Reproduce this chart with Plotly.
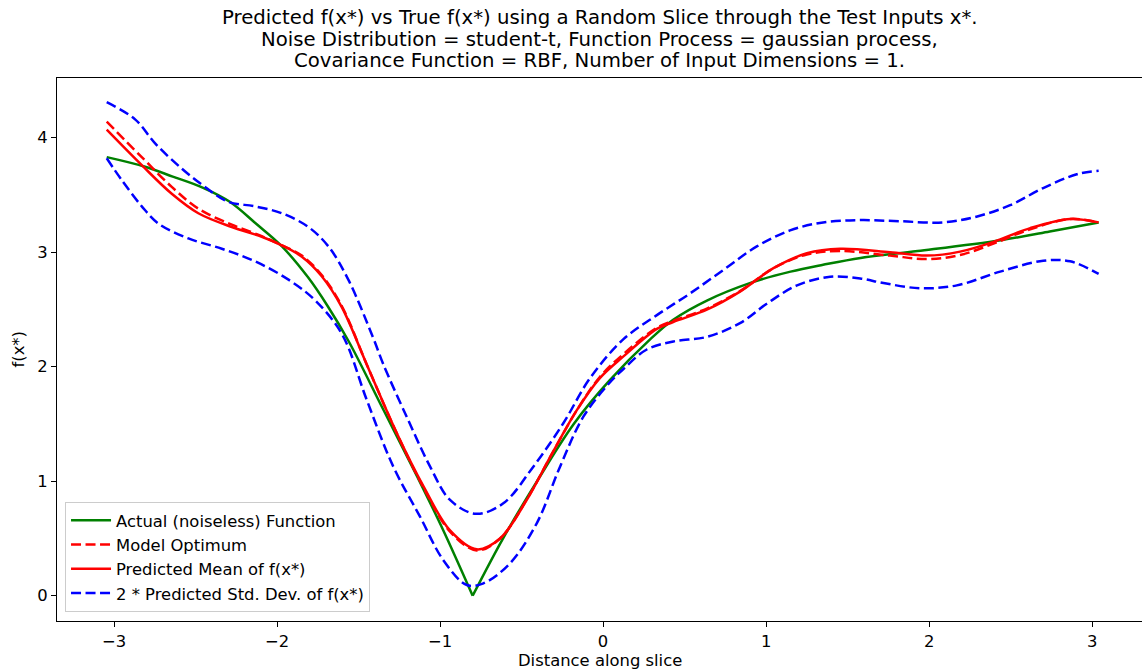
import plotly.graph_objects as go

# ---- data ----
true_left_x = [-3.045, -2.82, -2.64, -2.45, -2.29, -2.13, -1.97, -1.81, -1.69, -1.56, -1.35, -1.14, -0.98, -0.80]
true_left_y = [3.83, 3.75, 3.66, 3.56, 3.44, 3.25, 3.05, 2.78, 2.53, 2.22, 1.63, 1.04, 0.57, 0.0]
true_right_x = [-0.80, -0.61, -0.405, -0.18, 0.04, 0.29, 0.43, 0.64, 0.90, 1.15, 1.35, 1.58, 1.93, 2.44, 2.74, 3.04]
true_right_y = [0.0, 0.51, 1.00, 1.50, 1.88, 2.24, 2.41, 2.58, 2.73, 2.83, 2.89, 2.95, 3.01, 3.105, 3.18, 3.26]

pred_x = [-3.045, -2.83, -2.646, -2.483, -2.278, -2.094, -1.971, -1.848, -1.726, -1.603,
          -1.45, -1.266, -1.10, -0.939, -0.775, -0.632, -0.468, -0.325, -0.161, -0.02,
          0.125, 0.33, 0.43, 0.64, 0.84, 1.045, 1.25, 1.454, 1.76, 1.986,
          2.19, 2.395, 2.62, 2.865, 3.04]
mean_y = [4.07, 3.76, 3.51, 3.34, 3.22, 3.135, 3.06, 2.96, 2.79, 2.52,
          2.02, 1.42, 0.95, 0.57, 0.405, 0.50, 0.836, 1.21, 1.62, 1.90,
          2.09, 2.33, 2.39, 2.50, 2.655, 2.86, 2.99, 3.03, 3.00, 2.97,
          3.005, 3.09, 3.21, 3.29, 3.26]
optimum_y = [4.14, 3.83, 3.57, 3.38, 3.24, 3.14, 3.06, 2.97, 2.80, 2.53,
             2.02, 1.42, 0.94, 0.56, 0.395, 0.50, 0.84, 1.21, 1.62, 1.91,
             2.11, 2.34, 2.40, 2.51, 2.66, 2.86, 2.98, 3.01, 2.97, 2.94,
             2.975, 3.075, 3.20, 3.29, 3.26]

upper_x = [-3.045, -2.871, -2.748, -2.585, -2.442, -2.30, -2.135, -1.971, -1.808, -1.685,
           -1.563, -1.41, -1.348, -1.204, -1.061, -0.939, -0.78, -0.612, -0.428, -0.244,
           -0.08, 0.125, 0.33, 0.534, 0.738, 0.943, 1.147, 1.35, 1.577, 1.82,
           2.088, 2.29, 2.497, 2.70, 2.906, 3.04]
upper_y = [4.31, 4.16, 3.95, 3.73, 3.57, 3.44, 3.40, 3.34, 3.22, 3.05,
           2.76, 2.25, 2.02, 1.56, 1.127, 0.836, 0.715, 0.807, 1.127, 1.506,
           1.90, 2.24, 2.45, 2.64, 2.845, 3.05, 3.19, 3.26, 3.28, 3.27,
           3.26, 3.31, 3.41, 3.56, 3.68, 3.71]

lower_x = [-3.045, -2.953, -2.83, -2.728, -2.544, -2.339, -2.135, -1.93, -1.767, -1.60,
           -1.45, -1.287, -1.123, -0.98, -0.836, -0.734, -0.571, -0.407, -0.264, -0.121,
           0.04, 0.125, 0.268, 0.431, 0.636, 0.84, 1.004, 1.19, 1.393, 1.577,
           1.72, 1.945, 2.17, 2.436, 2.70, 2.865, 3.04]
lower_y = [3.82, 3.63, 3.40, 3.25, 3.12, 3.03, 2.92, 2.76, 2.58, 2.28,
           1.71, 1.127, 0.69, 0.31, 0.093, 0.108, 0.283, 0.632, 1.127, 1.563,
           1.86, 1.98, 2.15, 2.22, 2.26, 2.38, 2.55, 2.71, 2.785, 2.77,
           2.73, 2.685, 2.71, 2.83, 2.925, 2.92, 2.81]

x_tick_vals = [-3, -2, -1, 0, 1, 2, 3]
y_tick_vals = [0, 1, 2, 3, 4]

title_lines = [
    "Predicted f(x*) vs True f(x*) using a Random Slice through the Test Inputs x*.",
    "Noise Distribution = student-t, Function Process = gaussian process,",
    "Covariance Function = RBF, Number of Input Dimensions = 1.",
]

GREEN = "#008000"
RED = "#ff0000"
BLUE = "#0000ff"
LW = 2.5
DASH = "10px,4.5px"
FONT = "DejaVu Sans"
FS = 16.4
TFS = 19.7

fig = go.Figure()
fig.add_trace(go.Scatter(x=true_left_x, y=true_left_y, mode="lines", name="Actual (noiseless) Function",
                         line=dict(color=GREEN, width=LW, shape="spline"), legendgroup="a"))
fig.add_trace(go.Scatter(x=true_right_x, y=true_right_y, mode="lines", showlegend=False,
                         line=dict(color=GREEN, width=LW, shape="spline"), legendgroup="a"))
fig.add_trace(go.Scatter(x=pred_x, y=optimum_y, mode="lines", name="Model Optimum",
                         line=dict(color=RED, width=LW, dash=DASH, shape="spline"), legendgroup="b"))
fig.add_trace(go.Scatter(x=pred_x, y=mean_y, mode="lines", name="Predicted Mean of f(x*)",
                         line=dict(color=RED, width=LW, shape="spline"), legendgroup="c"))
fig.add_trace(go.Scatter(x=upper_x, y=upper_y, mode="lines", name="2 * Predicted Std. Dev. of f(x*)",
                         line=dict(color=BLUE, width=LW, dash=DASH, shape="spline"), legendgroup="d"))
fig.add_trace(go.Scatter(x=lower_x, y=lower_y, mode="lines", showlegend=False,
                         line=dict(color=BLUE, width=LW, dash=DASH, shape="spline"), legendgroup="d"))

axis_common = dict(showgrid=False, zeroline=False, showline=True, linecolor="black", linewidth=1.1,
                   mirror=True, ticks="outside", ticklen=5, tickwidth=1.1, tickcolor="black",
                   tickfont=dict(family=FONT, size=FS, color="black"))

fig.update_layout(
    width=1142, height=671,
    margin=dict(l=57, r=0, t=78, b=50),
    paper_bgcolor="white", plot_bgcolor="white",
    font=dict(family=FONT, color="black"),
    xaxis=dict(range=[-3.35, 3.306], tickvals=x_tick_vals, **axis_common),
    yaxis=dict(range=[-0.221, 4.521], tickvals=y_tick_vals, **axis_common),
    legend=dict(x=0.0074, y=0.0166, xanchor="left", yanchor="bottom",
                bgcolor="rgba(255,255,255,0.8)", bordercolor="#cccccc", borderwidth=1,
                font=dict(family=FONT, size=FS, color="black"),
                traceorder="grouped", tracegroupgap=0, itemwidth=40),
    showlegend=True,
)

title_shifts = [60.5, 38.8, 17.2]
for line, shift in zip(title_lines, title_shifts):
    fig.add_annotation(text=line, xref="paper", yref="paper", x=0.5, y=1,
                       xanchor="center", yanchor="middle", yshift=shift, showarrow=False,
                       font=dict(family=FONT, size=TFS, color="black"))
fig.add_annotation(text="Distance along slice", xref="paper", yref="paper", x=0.5, y=0,
                   xanchor="center", yanchor="middle", yshift=-39, showarrow=False,
                   font=dict(family=FONT, size=FS, color="black"))
fig.add_annotation(text="f(x*)", xref="paper", yref="paper", x=0, y=0.5, textangle=-90,
                   xanchor="center", yanchor="middle", xshift=-39, showarrow=False,
                   font=dict(family=FONT, size=FS, color="black"))

fig.write_html("out.html")
